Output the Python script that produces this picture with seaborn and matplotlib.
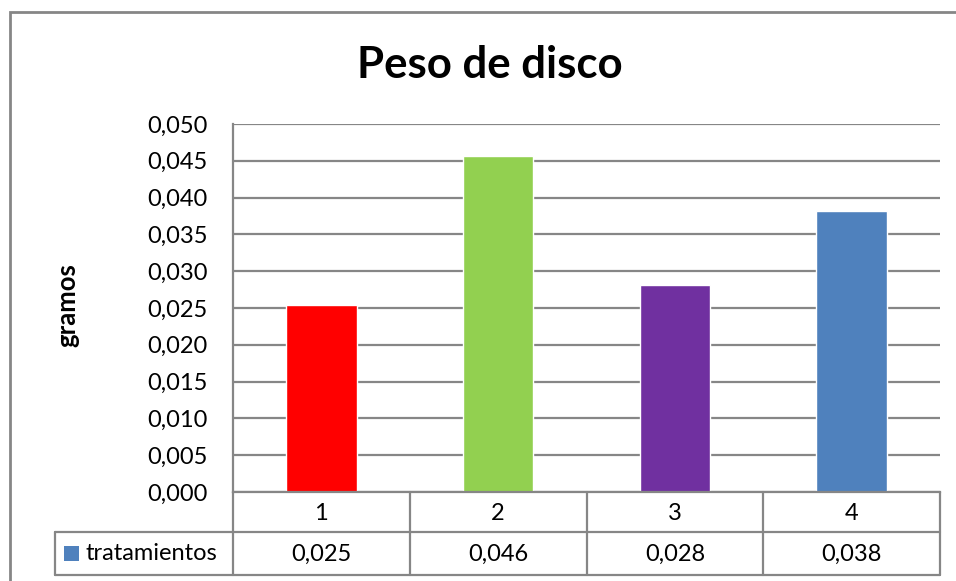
import matplotlib
matplotlib.use("Agg")
import matplotlib.pyplot as plt
import seaborn as sns
import pandas as pd
from matplotlib.lines import Line2D
from matplotlib.patches import Rectangle
from matplotlib import transforms
from matplotlib.ticker import FuncFormatter, MultipleLocator

# Datos
categorias = ["1", "2", "3", "4"]
peso = [0.0254, 0.0457, 0.0281, 0.0382]
colores = ["#FF0000", "#92D050", "#7030A0", "#4F81BD"]
serie = "tratamientos"
color_serie = "#4F81BD"
titulo = "Peso de disco"
eje_y = "gramos"

sns.set_theme(style="white")
plt.rcParams["font.family"] = ["Lato", "DejaVu Sans"]
plt.rcParams["text.color"] = "black"

GRIS = "#868686"
FS = 17
W, H = 956, 581
fig = plt.figure(figsize=(W / 100, H / 100), dpi=100)


def fx(px):
    return px / W


def fy(py):
    return 1 - py / H


def coma(v):
    return f"{v:.3f}".replace(".", ",")


ax = fig.add_axes([fx(233), fy(492), fx(940) - fx(233), fy(124) - fy(492)])
df = pd.DataFrame({"tratamiento": categorias, "peso": peso})
sns.barplot(data=df, x="tratamiento", y="peso", hue="tratamiento",
            palette=colores, width=0.4, saturation=1, legend=False, ax=ax)

ax.set_ylim(0, 0.05)
ax.yaxis.set_major_locator(MultipleLocator(0.005))
ax.yaxis.set_major_formatter(FuncFormatter(lambda v, p: coma(v)))
ax.grid(axis="y", color=GRIS, lw=1.6)
ax.set_axisbelow(True)
ax.tick_params(axis="y", length=0, pad=18, labelsize=FS, labelcolor="black")
ax.tick_params(axis="x", length=0, labelbottom=False)
ax.set_xlabel("")
ax.set_ylabel("")
for lado in ("top", "right"):
    ax.spines[lado].set_visible(False)
for lado in ("left", "bottom"):
    ax.spines[lado].set_color(GRIS)
    ax.spines[lado].set_linewidth(1.6)

# Titulo y eje
fig.text(fx(490), fy(78), titulo, ha="center", va="baseline",
         fontsize=31.5, fontweight="bold")
fig.text(fx(67), fy(305), eje_y, ha="center", va="center", rotation=90,
         fontsize=18.5, fontweight="bold")

# Tabla de datos bajo el grafico
tr = transforms.blended_transform_factory(ax.transData, fig.transFigure)
ft = fig.transFigure
y_top, y_mid, y_bot = 492, 532, 575
lineas = [
    Line2D([fx(55), fx(940)], [fy(y_mid), fy(y_mid)], transform=ft),
    Line2D([fx(55), fx(940)], [fy(y_bot), fy(y_bot)], transform=ft),
    Line2D([fx(55), fx(55)], [fy(y_mid), fy(y_bot)], transform=ft),
]
x0, x1 = ax.get_xlim()
for i in range(len(categorias) + 1):
    xc = x0 + i * (x1 - x0) / len(categorias)
    lineas.append(Line2D([xc, xc], [fy(y_top), fy(y_bot)], transform=tr))
for ln in lineas:
    ln.set_color(GRIS)
    ln.set_linewidth(1.6)
    fig.add_artist(ln)

for i, (c, v) in enumerate(zip(categorias, peso)):
    fig.text(i, fy(513), c, transform=tr, ha="center", va="center", fontsize=FS)
    fig.text(i, fy(554), coma(v), transform=tr, ha="center", va="center", fontsize=FS)

fig.add_artist(Rectangle((fx(64), fy(561)), fx(15), fy(546) - fy(561),
                         transform=ft, color=color_serie, lw=0))
fig.text(fx(86), fy(554), serie, ha="left", va="center", fontsize=FS)

# Marco exterior
fig.add_artist(Rectangle((fx(10), fy(620)), fx(1000) - fx(10), fy(12) - fy(620),
                         transform=ft, fill=False, edgecolor=GRIS, lw=2))

fig.savefig("out.png", dpi=100)
